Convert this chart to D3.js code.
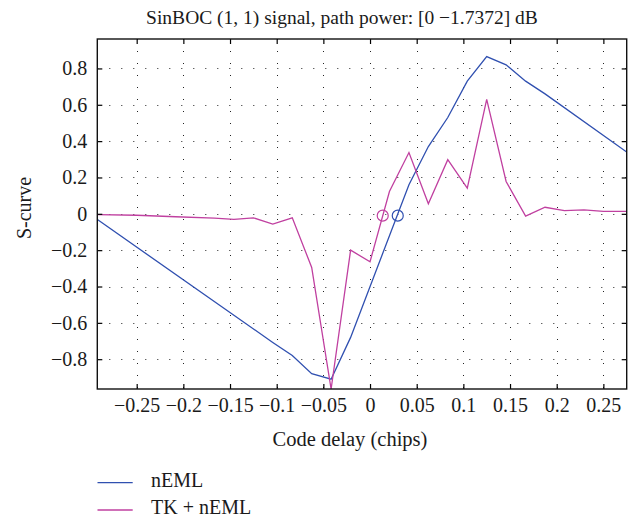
<!DOCTYPE html>
<html>
<head>
<meta charset="utf-8">
<script src="https://cdn.jsdelivr.net/npm/d3@7"></script>
<style>
  html, body { margin: 0; padding: 0; background: #fff; }
  svg { display: block; }
  svg text { font-family: "Liberation Serif", "Times New Roman", serif; }
</style>
</head>
<body>
<svg id="chart" width="642" height="519"></svg>
<script>
// ---- data ----
const titleText = "SinBOC (1, 1) signal, path power: [0 \u22121.7372] dB";
const xLabel = "Code delay (chips)";
const yLabel = "S-curve";
const seriesNames = ["nEML", "TK + nEML"];
const xTicks = [-0.25, -0.2, -0.15, -0.1, -0.05, 0, 0.05, 0.1, 0.15, 0.2, 0.25];
const yTicks = [-0.8, -0.6, -0.4, -0.2, 0, 0.2, 0.4, 0.6, 0.8];
const xDomain = [-0.2922, 0.275];
const yDomain = [-0.964, 0.962];

const nemlX = [-0.2917, -0.1042, -0.0833, -0.0625, -0.0417, -0.0208, 0.0417, 0.0625, 0.0833, 0.1042, 0.125, 0.1458, 0.1667, 0.1875, 0.275];
const nemlY = [-0.033, -0.708, -0.78, -0.88, -0.91, -0.68, 0.16, 0.37, 0.53, 0.73, 0.865, 0.82, 0.73, 0.66, 0.34];

const tkX = [-0.2917, -0.25, -0.2083, -0.1667, -0.1458, -0.125, -0.1042, -0.0833, -0.0625, -0.0417, -0.0208, 0, 0.0208, 0.0417, 0.0625, 0.0833, 0.1042, 0.125, 0.1458, 0.1667, 0.1875, 0.2083, 0.2292, 0.25, 0.275];
const tkY = [-0.004, -0.008, -0.016, -0.024, -0.031, -0.022, -0.057, -0.022, -0.295, -0.964, -0.2, -0.264, 0.123, 0.337, 0.055, 0.298, 0.141, 0.63, 0.178, -0.013, 0.036, 0.018, 0.022, 0.013, 0.013];

// zero-crossing markers
const zeroX = [0.0297, 0.0136];
const zeroY = [-0.01, -0.01];

const colors = ["#3050b0", "#c040a0"];

// ---- layout ----
const svg = d3.select("#chart");
const L = 97.3, R = 626.7, T = 39, B = 389;
const x = d3.scaleLinear().domain(xDomain).range([L, R]);
const y = d3.scaleLinear().domain(yDomain).range([B, T]);
const fmt = d => d === 0 ? "0" : (d < 0 ? "\u2212" : "") + String(Math.abs(+d.toFixed(2)));

// grid
const grid = svg.append("g").attr("stroke", "#222").attr("stroke-width", 1).attr("stroke-dasharray", "1 11");
grid.selectAll(".gx").data(xTicks).enter().append("line")
  .attr("x1", d => Math.round(x(d)) + 0.5).attr("x2", d => Math.round(x(d)) + 0.5)
  .attr("y1", T).attr("y2", B);
grid.selectAll(".gy").data(yTicks).enter().append("line")
  .attr("y1", d => Math.round(y(d)) + 0.5).attr("y2", d => Math.round(y(d)) + 0.5)
  .attr("x1", L).attr("x2", R);

// clip
svg.append("defs").append("clipPath").attr("id", "clip")
  .append("rect").attr("x", L).attr("y", T).attr("width", R - L).attr("height", B - T);

const line = d3.line().x(d => x(d[0])).y(d => y(d[1]));
const series = [d3.zip(nemlX, nemlY), d3.zip(tkX, tkY)];
const plot = svg.append("g").attr("clip-path", "url(#clip)");
series.forEach((s, i) => {
  plot.append("path").attr("d", line(s)).attr("fill", "none")
    .attr("stroke", colors[i]).attr("stroke-width", 1.3).attr("stroke-linejoin", "miter");
});
zeroX.forEach((zx, i) => {
  plot.append("circle").attr("cx", x(zx)).attr("cy", y(zeroY[i])).attr("r", 5.5)
    .attr("fill", "none").attr("stroke", colors[i]).attr("stroke-width", 1.2);
});

// axes
function styleAxis(g) {
  g.attr("font-family", null).attr("font-size", null);
  g.select(".domain").remove();
  g.selectAll(".tick line").attr("stroke", "#000").attr("stroke-width", 1.2);
  g.selectAll(".tick text").attr("fill", "#1a1a1a").style("font-size", "20px");
}
svg.append("g").attr("transform", `translate(0,${B})`)
  .call(d3.axisBottom(x).tickValues(xTicks).tickFormat(fmt).tickSizeInner(-5).tickSizeOuter(0).tickPadding(9))
  .call(styleAxis);
svg.append("g").attr("transform", `translate(0,${T})`)
  .call(d3.axisTop(x).tickValues(xTicks).tickFormat("").tickSizeInner(-5).tickSizeOuter(0))
  .call(styleAxis);
svg.append("g").attr("transform", `translate(${L},0)`)
  .call(d3.axisLeft(y).tickValues(yTicks).tickFormat(fmt).tickSizeInner(-5).tickSizeOuter(0).tickPadding(10))
  .call(styleAxis);
svg.append("g").attr("transform", `translate(${R},0)`)
  .call(d3.axisRight(y).tickValues(yTicks).tickFormat("").tickSizeInner(-5).tickSizeOuter(0))
  .call(styleAxis);

// box
svg.append("rect").attr("x", L).attr("y", T).attr("width", R - L).attr("height", B - T)
  .attr("fill", "none").attr("stroke", "#111").attr("stroke-width", 1.4);

// title & labels
svg.append("text").attr("x", 342).attr("y", 24).attr("text-anchor", "middle")
  .style("font-size", "19.5px").attr("fill", "#1a1a1a").text(titleText);
svg.append("text").attr("x", 350).attr("y", 446).attr("text-anchor", "middle")
  .style("font-size", "20.5px").attr("fill", "#1a1a1a").text(xLabel);
svg.append("text").attr("transform", "translate(31,208) rotate(-90)").attr("text-anchor", "middle")
  .style("font-size", "20px").attr("fill", "#1a1a1a").text(yLabel);

// legend
const legY = [482.7, 510];
const legBase = [487, 514];
seriesNames.forEach((n, i) => {
  svg.append("line").attr("x1", 97.5).attr("x2", 132.7).attr("y1", legY[i]).attr("y2", legY[i])
    .attr("stroke", colors[i]).attr("stroke-width", 1.3);
  svg.append("text").attr("x", 151).attr("y", legBase[i]).style("font-size", "20px")
    .attr("fill", "#1a1a1a").text(n);
});
</script>
</body>
</html>
